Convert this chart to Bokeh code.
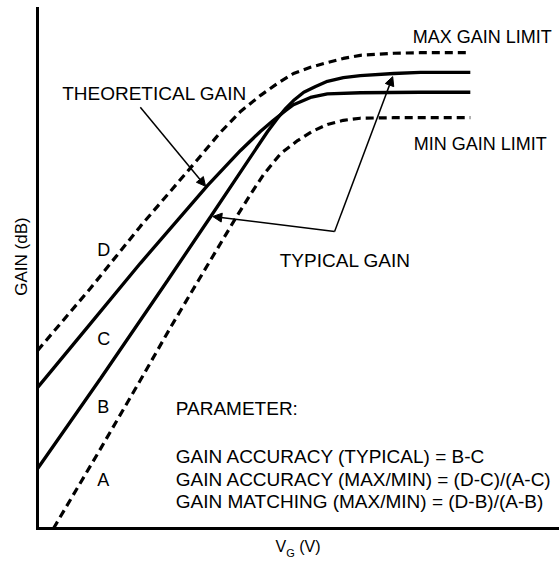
import math
from bokeh.plotting import figure
from bokeh.models import Range1d, Arrow, NormalHead, LinearAxis, FixedTicker
from bokeh.core.properties import value
from bokeh.embed import file_html
from bokeh.resources import INLINE

# ---- data (arbitrary units: V_G 0..100, gain 0..100) ----
d_x = [0, 10.3, 20.0, 29.8, 35.6, 39.5, 43.4, 46.7, 49.8, 53.1, 56.4, 59.5, 62.8, 69.3, 74.5, 84.2]
d_y = [34.2, 46.2, 58.1, 69.4, 76.2, 80.2, 83.3, 85.6, 87.5, 88.7, 89.6, 90.4, 91.0, 91.4, 91.5, 91.5]

c_x = [0, 10.3, 20.0, 33.1, 39.5, 43.4, 45.9, 48.3, 49.8, 53.1, 56.4, 62.8, 74.5, 84.2]
c_y = [27.1, 39.4, 51.0, 66.0, 72.7, 76.4, 78.5, 80.4, 81.5, 82.9, 83.6, 83.8, 83.9, 83.9]

b_x = [0, 12.3, 25.3, 33.7, 44.8, 46.7, 48.3, 49.8, 51.8, 54.1, 56.4, 59.5, 62.8, 69.3, 74.5, 84.2]
b_y = [11.5, 28.9, 47.7, 60.0, 76.4, 78.9, 80.8, 82.3, 83.9, 85.0, 86.0, 86.7, 87.1, 87.5, 87.7, 87.7]

a_x = [3.1, 12.3, 20.0, 25.9, 31.3, 38.5, 41.4, 44.0, 47.3, 50.6, 53.5, 56.4, 59.5, 62.8, 69.3, 84.2]
a_y = [0.0, 15.4, 28.5, 38.7, 47.7, 59.6, 64.2, 68.1, 72.1, 74.6, 76.4, 77.7, 78.5, 78.9, 79.0, 79.0]

curve_letters = ["D", "C", "B", "A"]
letter_x = [11.6, 11.6, 11.6, 11.6]
letter_y = [53.6, 36.4, 23.3, 9.4]

limit_labels = ["MAX GAIN LIMIT", "MIN GAIN LIMIT"]
limit_x = [73.0, 73.2]
limit_y = [94.5, 74.0]

theo_label = "THEORETICAL GAIN"
theo_pos = (4.8, 83.7)
typ_label = "TYPICAL GAIN"
typ_pos = (72.6, 51.5)

param_lines = [
    "PARAMETER:",
    "GAIN ACCURACY (TYPICAL) = B-C",
    "GAIN ACCURACY (MAX/MIN) = (D-C)/(A-C)",
    "GAIN MATCHING (MAX/MIN) = (D-B)/(A-B)",
]
param_x = [26.9, 26.9, 26.9, 26.9]
param_y = [23.0, 13.8, 9.5, 5.2]

# axis titles
y_title = "GAIN (dB)"
y_title_pos = (-3.2, 52.3)
x_title_parts = ["V", "G", "(V)"]
x_title_x = [46.3, 48.4, 50.9]
x_title_y = [-3.4, -4.8, -3.4]

# arrows: (x_start, y_start, x_end, y_end)
theo_arrow = (20.0, 81.0, 32.7, 65.8)
typ_vertex = (57.8, 57.1)
typ_tips = [(34.1, 60.0), (69.1, 86.9)]

# axis extents
x_axis_bounds = (0, 101.2)
y_axis_bounds = (0, 100)

FONT = "Liberation Sans"

p = figure(width=559, height=562, x_range=Range1d(-7.2, 101.55), y_range=Range1d(-6.54, 101.54),
           output_backend="svg", toolbar_location=None, tools="",
           x_axis_type=None, y_axis_type=None,
           min_border_left=0, min_border_bottom=0, min_border_top=0, min_border_right=0)
p.outline_line_color = None
p.grid.visible = False

xax = LinearAxis(fixed_location=0, bounds=x_axis_bounds)
yax = LinearAxis(fixed_location=0, bounds=y_axis_bounds)
for ax in (xax, yax):
    ax.ticker = FixedTicker(ticks=[])
    ax.major_tick_out = 0
    ax.major_tick_in = 0
    ax.minor_tick_out = 0
    ax.minor_tick_in = 0
    ax.major_label_text_font_size = "0px"
    ax.major_label_standoff = 0
    ax.axis_line_width = 3
    ax.axis_line_color = "black"
    ax.axis_line_cap = "square"
p.add_layout(xax, "below")
p.add_layout(yax, "left")

p.line(d_x, d_y, line_width=3.2, line_color="black", line_dash="8 5")
p.line(a_x, a_y, line_width=3.2, line_color="black", line_dash="8 5")
p.line(c_x, c_y, line_width=3.3, line_color="black")
p.line(b_x, b_y, line_width=3.3, line_color="black")

p.text(letter_x, letter_y, text=curve_letters, text_font=value(FONT), text_font_size="18px",
       text_baseline="alphabetic", text_align="left", text_color="black")
p.text(limit_x, limit_y, text=limit_labels, text_font=value(FONT), text_font_size="18px",
       text_baseline="alphabetic", text_align="left", text_color="black")
p.text([theo_pos[0]], [theo_pos[1]], text=[theo_label], text_font=value(FONT), text_font_size="19px",
       text_baseline="alphabetic", text_align="left", text_color="black")
p.text([typ_pos[0]], [typ_pos[1]], text=[typ_label], text_font=value(FONT), text_font_size="19px",
       text_baseline="alphabetic", text_align="right", text_color="black")
p.text(param_x, param_y, text=param_lines, text_font=value(FONT), text_font_size="19px",
       text_baseline="alphabetic", text_align="left", text_color="black")

p.text([y_title_pos[0]], [y_title_pos[1]], text=[y_title], angle=math.pi / 2,
       text_font=value(FONT), text_font_size="17px", text_baseline="alphabetic",
       text_align="center", text_color="black")
p.text(x_title_x, x_title_y, text=x_title_parts, text_font=value(FONT),
       text_font_size=["16px", "11px", "16px"], text_baseline="alphabetic",
       text_align="left", text_color="black")

p.add_layout(Arrow(end=NormalHead(size=9, fill_color="black", line_color="black", line_width=1),
                   x_start=theo_arrow[0], y_start=theo_arrow[1], x_end=theo_arrow[2], y_end=theo_arrow[3],
                   line_width=1.5, line_color="black"))
for tx, ty in typ_tips:
    p.add_layout(Arrow(end=NormalHead(size=9, fill_color="black", line_color="black", line_width=1),
                       x_start=typ_vertex[0], y_start=typ_vertex[1], x_end=tx, y_end=ty,
                       line_width=1.5, line_color="black"))

open("out.html", "w").write(file_html(p, INLINE))
